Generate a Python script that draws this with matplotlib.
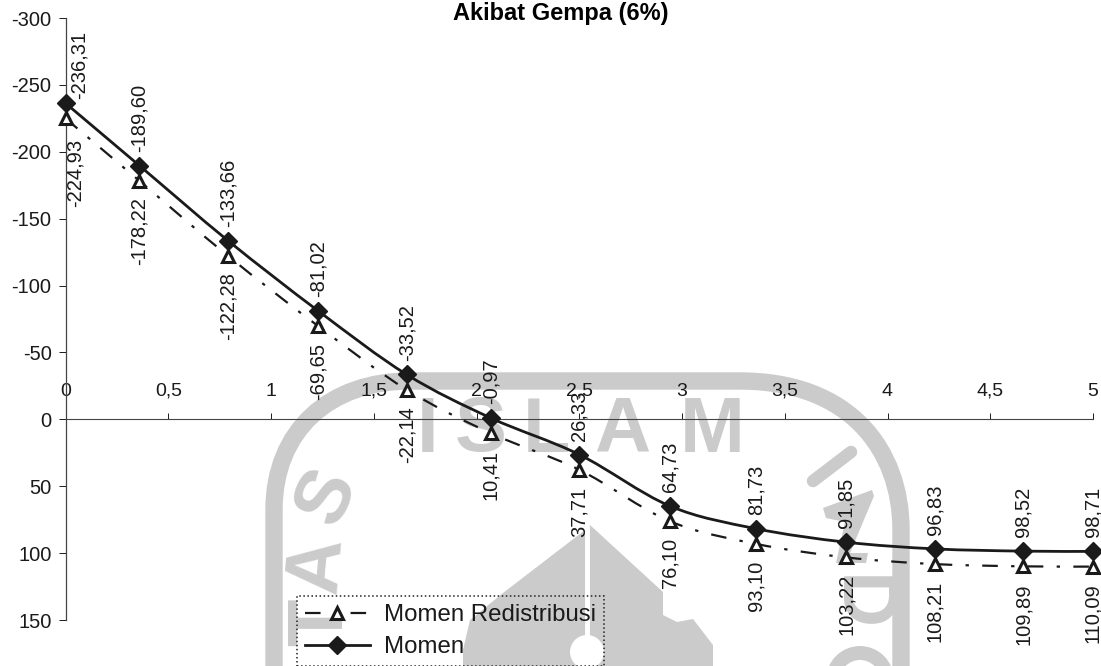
#!/usr/bin/env python3
import matplotlib
matplotlib.use("Agg")
import matplotlib.pyplot as plt
from matplotlib.lines import Line2D
from matplotlib.patches import PathPatch, Polygon, Circle
from matplotlib.path import Path
from matplotlib.ticker import FuncFormatter

plt.rcParams["font.family"] = ["Liberation Sans", "DejaVu Sans"]

TITLE = "Akibat Gempa (6%)"
NAME_REDIST = "Momen Redistribusi"
NAME_MOMEN = "Momen"

x_pos = [0, 0.36, 0.79, 1.23, 1.66, 2.07, 2.50, 2.94, 3.36, 3.80, 4.23, 4.66, 5.0]
momen = [-236.31, -189.60, -133.66, -81.02, -33.52, -0.97, 26.33, 64.73,
         81.73, 91.85, 96.83, 98.52, 98.71]
redist = [-224.93, -178.22, -122.28, -69.65, -22.14, 10.41, 37.71, 76.10,
          93.10, 103.22, 108.21, 109.89, 110.09]

x_ticks = [0, 0.5, 1, 1.5, 2, 2.5, 3, 3.5, 4, 4.5, 5]
y_ticks = [-300, -250, -200, -150, -100, -50, 0, 50, 100, 150]

W, H = 1101, 666
LEFT, RIGHT, TOP, BOTTOM = 65.5, 1093, 18, 620
GRAY = "#cbcbcb"
INK = "#1a1a1a"
DASHES = (0, (7, 6, 1.5, 6))


def comma(v, _=None):
    return f"{v:g}".replace(".", ",")


def smooth_path(xs, ys):
    # same kind of smoothed line the spreadsheet draws (catmull-rom segments)
    verts = [(xs[0], ys[0])]
    codes = [Path.MOVETO]
    n = len(xs)
    for i in range(n - 1):
        i0, i3 = max(i - 1, 0), min(i + 2, n - 1)
        verts.append((xs[i] + (xs[i + 1] - xs[i0]) / 6, ys[i] + (ys[i + 1] - ys[i0]) / 6))
        verts.append((xs[i + 1] - (xs[i3] - xs[i]) / 6, ys[i + 1] - (ys[i3] - ys[i]) / 6))
        verts.append((xs[i + 1], ys[i + 1]))
        codes += [Path.CURVE4] * 3
    return Path(verts, codes)


def draw_watermark(fig):
    # scanned page stamp behind the chart, placed in picture pixels
    bg = fig.add_axes([0, 0, 1, 1], zorder=-1)
    bg.set_xlim(0, W)
    bg.set_ylim(H, 0)
    bg.axis("off")

    arch = Path([(274, 680), (274, 510), (274, 430), (330, 381), (410, 381),
                 (740, 381), (850, 381), (901, 450), (901, 530), (901, 680)],
                [Path.MOVETO, Path.LINETO, Path.CURVE4, Path.CURVE4, Path.CURVE4,
                 Path.LINETO, Path.CURVE4, Path.CURVE4, Path.CURVE4, Path.LINETO])
    bg.add_patch(PathPatch(arch, fill=False, ec=GRAY, lw=12.5))

    # dome
    bg.add_patch(Polygon([(585, 530), (503, 593), (470, 620), (463, 650), (463, 670),
                          (713, 670), (713, 645), (693, 619), (677, 622), (663, 615),
                          (663, 592), (590, 525)],
                         closed=True, fc=GRAY, ec="none"))
    bg.plot([587, 587], [525, 650], color="white", lw=3.5, solid_capstyle="butt")
    bg.add_patch(Circle((587, 652), 17, fc="white", ec="none"))

    # pieces of the stamp lettering
    letters = [("I", 428, 431, 0), ("S", 481, 431, 0), ("L", 546, 431, 0),
               ("A", 622, 431, 0), ("M", 712, 431, 0), ("S", 327, 496, 65),
               ("A", 318, 565, 85), ("T", 322, 622, 90), ("D", 858, 603, -90)]
    for ch, px, py, rot in letters:
        bg.text(px, py, ch, color=GRAY, fontsize=56, fontweight="bold",
                ha="center", va="center", rotation=rot)
    bg.plot([813, 851], [481, 452], color=GRAY, lw=9, solid_capstyle="round")
    bg.add_patch(Polygon([(823, 508), (872, 490), (874, 496), (850, 553), (868, 553),
                          (866, 563), (836, 563), (845, 522), (826, 518)],
                         closed=True, fc=GRAY, ec="none"))
    bg.add_patch(Circle((860, 680), 27, fill=False, ec=GRAY, lw=10))


def main():
    fig = plt.figure(figsize=(W / 100, H / 100), dpi=100, facecolor="white")
    draw_watermark(fig)

    ax = fig.add_axes([LEFT / W, 1 - BOTTOM / H, (RIGHT - LEFT) / W, (BOTTOM - TOP) / H])
    ax.patch.set_alpha(0)
    ax.set_xlim(0, 5)
    ax.set_ylim(150, -300)

    for name in ["right", "bottom"]:
        ax.spines[name].set_visible(False)
    ax.spines["top"].set_position(("data", 0))
    ax.spines["top"].set_color("#444444")
    ax.spines["top"].set_linewidth(0.8)
    ax.spines["left"].set_color("#444444")
    ax.spines["left"].set_linewidth(0.9)

    ax.xaxis.tick_top()
    ax.set_xticks(x_ticks)
    ax.set_yticks(y_ticks)
    ax.xaxis.set_major_formatter(FuncFormatter(comma))
    ax.yaxis.set_major_formatter(FuncFormatter(comma))
    ax.tick_params(axis="x", length=4, width=0.7, pad=10, labelsize=14, colors=INK)
    ax.tick_params(axis="y", length=5, width=0.7, pad=5, labelsize=14.5, colors=INK)

    ax.add_patch(PathPatch(smooth_path(x_pos, redist), fill=False, ec=INK,
                           lw=1.6, ls=DASHES, zorder=3))
    ax.add_patch(PathPatch(smooth_path(x_pos, momen), fill=False, ec=INK,
                           lw=2.0, zorder=3))
    ax.plot(x_pos, redist, ls="none", marker="^", ms=9, mfc="white", mec=INK,
            mew=2.2, clip_on=False, zorder=4)
    ax.plot(x_pos, momen, ls="none", marker="D", ms=9.5, mfc=INK, mec=INK,
            clip_on=False, zorder=5)

    for i, (xv, m, r) in enumerate(zip(x_pos, momen, redist)):
        # first pair sits beside the y axis, not on it
        off = (10, 3) if i == 0 else (0, 10)
        ax.annotate(f"{m:.2f}".replace(".", ","), (xv, m), xytext=off,
                    textcoords="offset points", rotation=90, ha="center", va="bottom",
                    fontsize=14.5, color=INK, zorder=6, annotation_clip=False)
        off = (7, -15) if i == 0 else (0, -12)
        ax.annotate(f"{r:.2f}".replace(".", ","), (xv, r), xytext=off,
                    textcoords="offset points", rotation=90, ha="center", va="top",
                    fontsize=14.5, color=INK, zorder=6, annotation_clip=False)

    fig.text(561 / W, 1 - 13.5 / H, TITLE, ha="center", va="center", fontsize=17,
             fontweight="bold", color="black")

    handles = [
        Line2D([], [], color=INK, lw=1.6, ls=DASHES, marker="^", ms=9, mfc="white",
               mec=INK, mew=2.2),
        Line2D([], [], color=INK, lw=2.0, marker="D", ms=9.5, mfc=INK, mec=INK),
    ]
    leg = ax.legend(handles, [NAME_REDIST, NAME_MOMEN], loc="upper left",
                    bbox_to_anchor=(297 / W, 1 - 596 / H), bbox_transform=fig.transFigure,
                    fontsize=17.3, borderaxespad=0, borderpad=0.33, handlelength=2.7,
                    handletextpad=0.6, labelspacing=0.42, fancybox=False,
                    facecolor="none", edgecolor="#222222", labelcolor=INK)
    leg.get_frame().set_linestyle(":")
    leg.get_frame().set_linewidth(1.1)
    leg.get_frame().set_alpha(None)
    leg.set_zorder(7)

    fig.savefig("out.png", dpi=100, facecolor="white")
    plt.close(fig)


if __name__ == "__main__":
    main()
